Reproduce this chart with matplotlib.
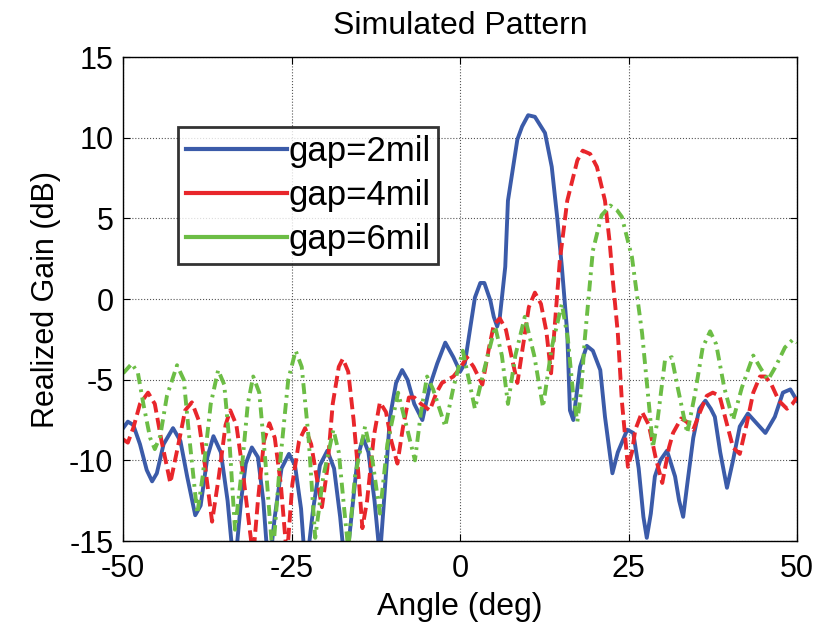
import numpy as np
import matplotlib.pyplot as plt
from matplotlib.lines import Line2D

plt.rcParams['font.family'] = ['Liberation Sans', 'DejaVu Sans']
plt.rcParams['axes.unicode_minus'] = False

# gap = 2 mil
ang_2mil = [-50.0, -49.3, -48.5, -47.5, -46.5, -45.7, -45.0, -44.0, -42.6, -41.5,
            -40.5, -39.3, -38.5, -37.5, -36.6, -35.5, -34.5, -33.5, -32.5, -31.8,
            -30.9, -30.0, -29.2, -28.4, -27.5, -26.5, -25.4, -24.5, -23.6, -22.9,
            -21.8, -20.8, -19.7, -18.7, -17.8, -17.0, -16.0, -15.2, -14.4, -13.6,
            -12.7, -11.9, -11.2, -10.4, -9.5, -8.6, -7.8, -6.8, -5.6, -4.5,
            -3.4, -2.2, -1.0, 0.0, 0.7, 1.5, 2.2, 3.0, 3.6, 4.5,
            5.0, 5.5, 5.9, 6.7, 7.1, 8.5, 9.2, 10.1, 11.1, 12.6,
            13.6, 14.4, 15.1, 15.9, 16.3, 16.8, 17.8, 18.8, 19.7, 20.8,
            21.5, 22.6, 23.4, 24.8, 25.7, 26.5, 27.2, 27.7, 28.3, 28.9,
            29.7, 30.7, 31.9, 32.5, 33.1, 33.7, 34.6, 35.5, 36.4, 37.2,
            37.8, 38.6, 39.6, 40.5, 41.5, 42.7, 44.0, 45.3, 46.7, 47.9,
            49.0, 50.0]
gain_2mil = [-8.0, -7.6, -7.8, -9.0, -10.6, -11.3, -10.8, -9.0, -8.0, -8.8,
             -11.0, -13.4, -12.8, -9.8, -8.5, -9.5, -12.5, -17.0, -12.5, -10.2,
             -9.2, -9.8, -12.5, -17.0, -13.5, -10.5, -9.6, -10.3, -13.0, -17.0,
             -13.0, -10.3, -9.4, -10.5, -13.5, -17.0, -13.0, -9.8, -8.6, -9.5,
             -12.5, -16.0, -12.0, -7.3, -5.2, -4.4, -5.0, -6.5, -7.5, -5.4,
             -4.0, -2.7, -3.6, -4.5, -4.0, -1.8, 0.1, 1.0, 1.0, -0.1,
             -1.1, -1.7, -1.1, 2.0, 6.1, 9.9, 10.7, 11.4, 11.3, 10.3,
             8.2, 5.1, 2.0, -2.1, -6.9, -7.5, -4.2, -2.9, -3.2, -4.4,
             -7.3, -10.8, -9.5, -8.1, -8.3, -10.5, -13.5, -14.8, -13.3, -11.0,
             -10.0, -9.4, -11.0, -12.5, -13.5, -11.5, -8.6, -6.8, -6.3, -6.8,
             -7.3, -9.5, -11.7, -10.0, -7.9, -7.1, -7.7, -8.3, -7.3, -5.8,
             -5.6, -6.3]

# gap = 4 mil
ang_4mil = [-50.0, -49.3, -48.5, -47.5, -46.3, -45.3, -44.3, -43.0, -41.8, -40.8,
            -39.8, -38.8, -37.8, -36.8, -35.8, -34.8, -34.1, -33.2, -32.3, -31.3,
            -30.7, -30.0, -29.1, -28.3, -27.5, -26.6, -25.7, -24.9, -23.9, -23.0,
            -22.1, -21.3, -20.5, -19.7, -18.9, -18.0, -17.4, -16.6, -15.8, -15.1,
            -14.5, -13.8, -12.8, -11.9, -11.0, -10.2, -9.3, -8.5, -7.6, -6.8,
            -5.8, -4.5, -3.5, -2.7, -1.0, 0.0, 1.0, 2.0, 3.3, 4.3,
            5.0, 5.9, 6.8, 7.6, 8.5, 9.3, 10.2, 11.1, 12.0, 12.8,
            13.5, 14.8, 15.9, 17.4, 18.2, 19.3, 20.3, 21.5, 22.2, 22.7,
            23.4, 24.0, 24.9, 25.5, 26.0, 27.0, 28.0, 29.0, 30.0, 31.0,
            31.6, 32.8, 33.6, 34.6, 35.6, 36.6, 37.5, 38.5, 39.5, 40.5,
            41.5, 42.5, 43.5, 44.5, 45.3, 46.2, 47.3, 48.5, 49.3, 50.0]
gain_4mil = [-8.7, -8.9, -8.0, -6.5, -5.8, -6.5, -8.8, -11.4, -9.0, -6.9,
             -6.4, -7.5, -10.5, -13.8, -11.0, -7.8, -6.9, -7.8, -10.5, -14.0,
             -16.0, -12.5, -8.8, -7.7, -8.6, -11.5, -16.0, -11.5, -8.8, -8.0,
             -9.0, -11.0, -12.9, -10.5, -6.5, -4.2, -3.7, -4.5, -7.5, -10.8,
             -14.2, -12.5, -8.5, -6.4, -7.0, -8.8, -10.2, -8.0, -6.1, -6.1,
             -6.5, -6.9, -5.8, -5.2, -4.8, -4.3, -3.6, -4.2, -5.3, -3.0,
             -1.6, -1.2, -1.9, -3.5, -5.2, -3.0, -0.5, 0.4, -0.3, -2.0,
             -4.6, 2.4, 6.1, 8.6, 9.2, 9.0, 8.2, 6.1, 3.5, 1.0,
             -2.1, -6.3, -10.4, -9.5, -8.1, -7.0, -7.8, -9.8, -11.4, -9.2,
             -8.3, -7.4, -7.6, -8.1, -7.0, -6.0, -5.8, -6.0, -7.6, -9.2,
             -9.6, -7.8, -5.8, -4.8, -4.8, -5.3, -6.3, -6.8, -6.5, -6.1]

# gap = 6 mil
ang_6mil = [-50.0, -48.7, -47.8, -47.0, -46.0, -45.3, -44.5, -43.5, -42.0, -41.0,
            -40.2, -39.0, -38.2, -37.0, -35.9, -35.0, -34.2, -33.4, -32.5, -31.5,
            -30.7, -29.8, -28.9, -27.8, -26.8, -25.5, -24.4, -23.5, -22.5, -21.5,
            -20.3, -18.8, -18.0, -17.2, -16.6, -15.6, -14.1, -13.0, -11.9, -10.8,
            -9.2, -8.0, -6.7, -5.8, -4.9, -4.0, -2.2, -1.0, 0.4, 1.2,
            2.2, 3.5, 5.2, 6.2, 7.1, 8.2, 9.6, 11.0, 12.3, 13.6,
            15.1, 16.0, 16.8, 17.4, 18.0, 18.5, 19.7, 21.0, 22.3, 23.3,
            24.0, 25.5, 27.0, 28.2, 28.6, 29.3, 30.4, 31.4, 32.3, 33.7,
            34.8, 36.0, 37.1, 38.0, 39.2, 40.5, 41.8, 43.5, 44.6, 45.7,
            46.8, 48.2, 49.4, 50.0]
gain_6mil = [-4.6, -4.0, -4.6, -6.5, -8.6, -9.3, -8.5, -6.0, -4.1, -5.0,
             -8.5, -13.3, -11.0, -6.5, -4.4, -5.3, -9.0, -14.3, -11.0, -6.5,
             -4.8, -5.8, -10.0, -16.0, -10.5, -5.0, -3.2, -4.2, -8.5, -14.8,
             -11.0, -8.1, -9.5, -13.0, -15.5, -11.0, -7.9, -10.0, -13.3, -9.0,
             -5.8, -7.8, -10.0, -7.0, -4.8, -5.6, -7.9, -5.5, -3.2, -4.8,
             -6.8, -4.5, -1.7, -3.5, -6.5, -3.5, -1.1, -3.5, -6.7, -3.0,
             -0.3, -2.5, -6.0, -7.6, -5.5, -2.5, 3.0, 5.2, 5.8, 5.5,
             5.1, 2.6, -2.1, -7.3, -9.2, -7.5, -3.8, -3.6, -5.5, -8.3,
             -6.0, -3.0, -2.0, -2.8, -5.5, -7.5, -5.5, -3.5, -4.3, -5.0,
             -4.2, -3.0, -2.5, -2.7]

labels = ['gap=2mil', 'gap=4mil', 'gap=6mil']
colors = ['#3b5ba9', '#e8262b', '#6cbd45']

fig = plt.figure(figsize=(8.32, 6.35), dpi=100)
ax = fig.add_axes([0.148, 0.148, 0.810, 0.762])

ax.plot(ang_2mil, gain_2mil, color=colors[0], lw=2.8, solid_joinstyle='round')
ax.plot(ang_4mil, gain_4mil, color=colors[1], lw=2.8, linestyle=(0, (3.1, 1.4)))
ax.plot(ang_6mil, gain_6mil, color=colors[2], lw=2.8, linestyle=(0, (2.8, 1.4, 0.7, 1.4)))

ax.set_xlim(-50, 50)
ax.set_ylim(-15, 15)
ax.set_xticks([-50, -25, 0, 25, 50])
ax.set_yticks(np.arange(-15, 16, 5))
ax.grid(True, linestyle=':', color='#555555', lw=0.8)
ax.tick_params(direction='in', top=True, right=True, labelsize=22, length=5)
ax.tick_params(axis='x', pad=9)
ax.tick_params(axis='y', pad=7)
for s in ax.spines.values():
    s.set_linewidth(1.0)

ax.set_xlabel('Angle (deg)', fontsize=23, labelpad=6)
ax.set_ylabel('Realized Gain (dB)', fontsize=22, labelpad=6)
ax.set_title('Simulated Pattern', fontsize=23, pad=17)

handles = [Line2D([], [], color=c, lw=3.0) for c in colors]
leg = ax.legend(handles, labels, loc='upper left', bbox_to_anchor=(0.082, 0.855),
                fontsize=25, frameon=True, fancybox=False, handlelength=2.9,
                handletextpad=0.05, labelspacing=0.32, borderpad=0.22, borderaxespad=0)
leg.get_frame().set_edgecolor('black')
leg.get_frame().set_linewidth(2.0)

fig.savefig('out.png', dpi=100)
